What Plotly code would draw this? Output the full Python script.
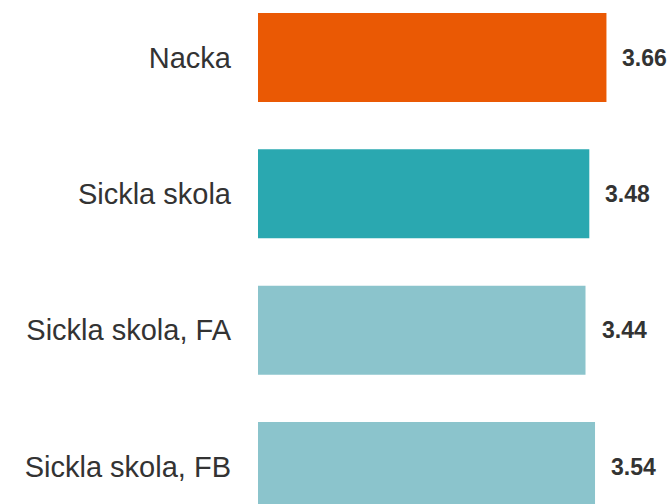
import plotly.graph_objects as go

categories = ["Nacka", "Sickla skola", "Sickla skola, FA", "Sickla skola, FB"]
values = [3.66, 3.48, 3.44, 3.54]
colors = ["#EA5904", "#2AA8B0", "#8BC4CC", "#8BC4CC"]

fig = go.Figure()
fig.add_trace(go.Bar(
    x=values, y=categories, orientation="h",
    marker=dict(color=colors, line=dict(width=0)),
    width=0.653, hoverinfo="skip",
))

for c, v in zip(categories, values):
    fig.add_annotation(
        x=v, y=c, xref="x", yref="y", text=f"<b>{v:.2f}</b>",
        showarrow=False, xanchor="left", yanchor="middle", xshift=14,
        font=dict(family="Arial, Liberation Sans, sans-serif", size=23, color="#333333"),
    )

fig.update_layout(
    width=671, height=504,
    margin=dict(l=258, r=0, t=0, b=0),
    paper_bgcolor="white", plot_bgcolor="white",
    showlegend=False,
    font=dict(family="Arial, Liberation Sans, sans-serif", color="#333333"),
)
fig.update_xaxes(range=[0, 4.338], visible=False, showgrid=False, zeroline=False)
fig.update_yaxes(
    range=[3.275, -0.422], showgrid=False, zeroline=False, showline=False,
    ticks="", ticklabelstandoff=26,
    tickfont=dict(family="Arial, Liberation Sans, sans-serif", size=29, color="#333333"),
)

fig.write_html(
    "out.html",
    config={"displayModeBar": False},
    post_script="document.body.style.margin='0';document.body.style.overflow='hidden';",
)
